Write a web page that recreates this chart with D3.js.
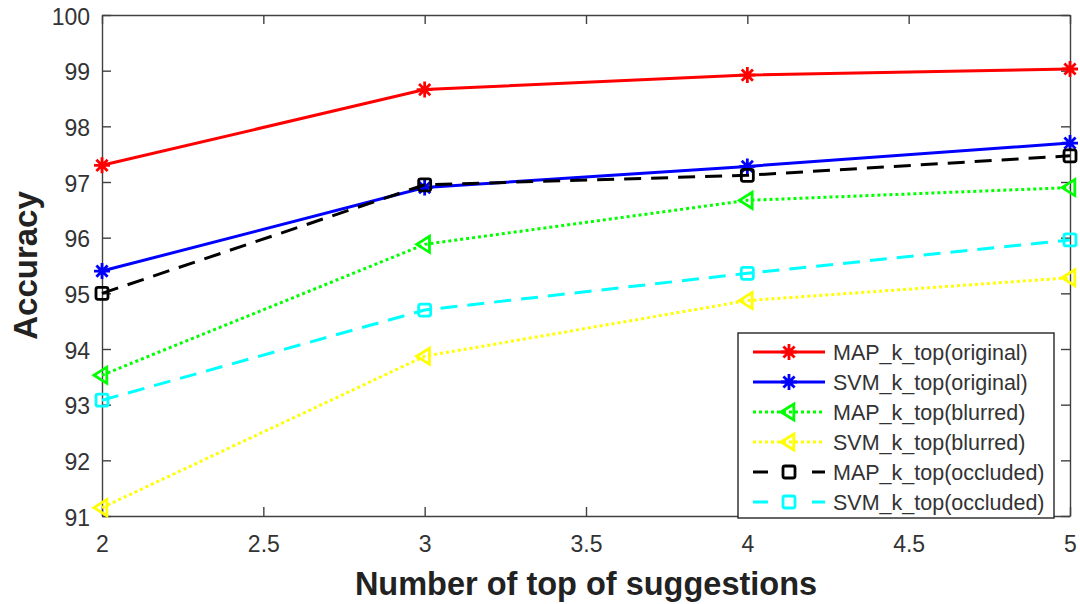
<!DOCTYPE html>
<html>
<head>
<meta charset="utf-8">
<script src="https://cdn.jsdelivr.net/npm/d3@7"></script>
<style>
  html, body { margin: 0; padding: 0; background: #fff; }
  svg { display: block; }
  text { font-family: "Liberation Sans", Arial, Helvetica, sans-serif; }
</style>
</head>
<body>
<svg id="chart" width="1080" height="604"></svg>
<script>
// Number of top suggestions on the x axis
const suggestions = [2, 3, 4, 5];

// Accuracy (%) for each method
const mapOriginal = [97.3, 98.66, 98.92, 99.03];
const svmOriginal = [95.4, 96.9, 97.28, 97.7];
const mapBlurred  = [93.53, 95.88, 96.67, 96.9];
const svmBlurred  = [91.15, 93.87, 94.87, 95.28];
const mapOccluded = [95.0, 96.95, 97.12, 97.47];
const svmOccluded = [93.08, 94.7, 95.36, 95.96];

const xTicks = [2, 2.5, 3, 3.5, 4, 4.5, 5];
const yTicks = [91, 92, 93, 94, 95, 96, 97, 98, 99, 100];

const seriesNames = [
  "MAP_k_top(original)", "SVM_k_top(original)",
  "MAP_k_top(blurred)", "SVM_k_top(blurred)",
  "MAP_k_top(occluded)", "SVM_k_top(occluded)"
];
const seriesValues = [mapOriginal, svmOriginal, mapBlurred, svmBlurred, mapOccluded, svmOccluded];
const seriesColors = ["#ff0000", "#0000ff", "#00ff00", "#ffff00", "#000000", "#00ffff"];
const seriesDash = ["none", "none", "3 3", "3 3", "17 10", "17 10"];
const legendDash = ["none", "none", "3 3", "3 3", "15 44", "15 44"];
const seriesMarker = ["star", "star", "tri", "tri", "square", "square"];

const svg = d3.select("#chart");
const plotLeft = 102, plotRight = 1070, plotTop = 15, plotBottom = 516;

const x = d3.scaleLinear().domain([2, 5]).range([plotLeft, plotRight]);
const y = d3.scaleLinear().domain([91, 100]).range([plotBottom, plotTop]);

const axisColor = "#404040";
const textColor = "#333333";

// Box and inward ticks
const tickLen = 9;
const gx = svg.append("g").attr("transform", `translate(0,${plotBottom})`)
  .call(d3.axisBottom(x).tickValues(xTicks).tickSizeInner(-tickLen).tickSizeOuter(0).tickPadding(20)
    .tickFormat(d3.format("~g")));
const gxTop = svg.append("g").attr("transform", `translate(0,${plotTop})`)
  .call(d3.axisTop(x).tickValues(xTicks).tickSizeInner(-tickLen).tickSizeOuter(0).tickFormat(""));
const gy = svg.append("g").attr("transform", `translate(${plotLeft},0)`)
  .call(d3.axisLeft(y).tickValues(yTicks).tickSizeInner(-tickLen).tickSizeOuter(0).tickPadding(12));
const gyRight = svg.append("g").attr("transform", `translate(${plotRight},0)`)
  .call(d3.axisRight(y).tickValues(yTicks).tickSizeInner(-tickLen).tickSizeOuter(0).tickFormat(""));

[gx, gxTop, gy, gyRight].forEach(g => {
  g.select(".domain").attr("stroke", axisColor).attr("stroke-width", 1.4);
  g.selectAll(".tick line").attr("stroke", axisColor).attr("stroke-width", 1.4);
  g.selectAll(".tick text").attr("fill", textColor).attr("font-size", 23);
});
gy.selectAll(".tick text").attr("dy", "0.4em");

// Axis titles
svg.append("text").attr("x", (plotLeft + plotRight) / 2).attr("y", 595)
  .attr("text-anchor", "middle").attr("font-size", 32.5).attr("font-weight", "bold").attr("fill", "#222")
  .text("Number of top of suggestions");
svg.append("text").attr("transform", `translate(37,${(plotTop + plotBottom) / 2}) rotate(-90)`)
  .attr("text-anchor", "middle").attr("font-size", 33).attr("font-weight", "bold").attr("fill", "#222")
  .text("Accuracy");

function drawMarker(g, type, cx, cy, color) {
  if (type === "star") {
    const r = 8;
    const path = d3.path();
    path.moveTo(cx - r, cy); path.lineTo(cx + r, cy);
    path.moveTo(cx, cy - r); path.lineTo(cx, cy + r);
    const d = r * 0.7;
    path.moveTo(cx - d, cy - d); path.lineTo(cx + d, cy + d);
    path.moveTo(cx - d, cy + d); path.lineTo(cx + d, cy - d);
    g.append("path").attr("d", path.toString()).attr("stroke", color).attr("stroke-width", 2.8).attr("fill", "none");
  } else if (type === "tri") {
    const r = 8;
    g.append("path")
      .attr("d", `M${cx - r},${cy} L${cx + r * 0.6},${cy - r} L${cx + r * 0.6},${cy + r} Z`)
      .attr("stroke", color).attr("stroke-width", 2.8).attr("fill", "none");
  } else {
    const s = 6;
    g.append("rect").attr("x", cx - s).attr("y", cy - s).attr("width", 2 * s).attr("height", 2 * s)
      .attr("rx", 2).attr("stroke", color).attr("stroke-width", 2.8).attr("fill", "none");
  }
}

const line = d3.line().x((d, i) => x(suggestions[i])).y(d => y(d));

const plot = svg.append("g");
seriesValues.forEach((vals, k) => {
  plot.append("path").datum(vals).attr("d", line)
    .attr("fill", "none").attr("stroke", seriesColors[k]).attr("stroke-width", 3)
    .attr("stroke-dasharray", seriesDash[k]);
  vals.forEach((v, i) => drawMarker(plot, seriesMarker[k], x(suggestions[i]), y(v), seriesColors[k]));
});

// Legend
const lg = svg.append("g");
const lgX = 738, lgY = 333, lgW = 316, lgH = 185;
lg.append("rect").attr("x", lgX).attr("y", lgY).attr("width", lgW).attr("height", lgH)
  .attr("fill", "#fff").attr("stroke", "#262626").attr("stroke-width", 1.4);
seriesNames.forEach((name, k) => {
  const ry = 352 + k * 30;
  lg.append("line").attr("x1", 753).attr("x2", 825).attr("y1", ry).attr("y2", ry)
    .attr("stroke", seriesColors[k]).attr("stroke-width", 3)
    .attr("stroke-dasharray", legendDash[k]);
  drawMarker(lg, seriesMarker[k], 789, ry, seriesColors[k]);
  lg.append("text").attr("x", 833).attr("y", ry + 7.5).attr("font-size", 21.5).attr("fill", textColor).text(name);
});
</script>
</body>
</html>
